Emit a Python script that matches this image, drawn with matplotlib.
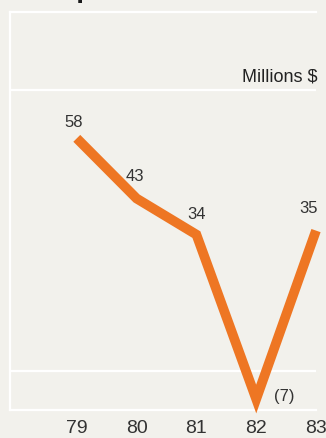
import matplotlib.pyplot as plt

years = [79, 80, 81, 82, 83]
profit = [58, 43, 34, -7, 35]
value_labels = ['58', '43', '34', '(7)', '35']
# label offsets from each point, in pixels
label_offsets = [(-3, 11), (-2, 18), (0, 16), (28, -2), (-7, 18)]

bg = '#f2f1ec'
orange = '#ee7623'
font = ['Liberation Sans', 'DejaVu Sans']

fig = plt.figure(figsize=(3.26, 4.38), dpi=100, facecolor=bg)
W, H = 326, 438
# axes box in pixel terms: left 10, right 316, top 12, bottom 410
ax = fig.add_axes([10 / W, (H - 410) / H, 306 / W, 398 / H])
ax.set_facecolor(bg)

ax.set_xlim(77.883, 82.983)
ax.set_ylim(-9.73, 89.5)

for s in ['left', 'top', 'bottom']:
    ax.spines[s].set_color('white')
    ax.spines[s].set_linewidth(1.6)
ax.spines['right'].set_visible(False)

for y in [0, 70]:
    ax.axhline(y, color='white', lw=1.6, zorder=1)

ax.plot(years, profit, color=orange, lw=7, solid_capstyle='butt',
        solid_joinstyle='miter', clip_on=False, zorder=3)

for x, y, lab, off in zip(years, profit, value_labels, label_offsets):
    ax.annotate(lab, (x, y), xytext=off, textcoords='offset pixels',
                ha='center', va='baseline', fontsize=12, family=font,
                color='#333333', annotation_clip=False)

ax.set_yticks([])
ax.set_xticks(years)
ax.set_xticklabels([str(y) for y in years], family=font, fontsize=14,
                   color='#333333')
ax.tick_params(axis='x', length=0, pad=7)

fig.text(317 / W, 1 - 82 / H, 'Millions $', ha='right', va='baseline',
         fontsize=13, family='Liberation Sans', color='#222222')
fig.text(10 / W, 1 + 3 / H, 'Group results', ha='left', va='baseline',
         fontsize=20, fontweight='bold', family='Liberation Sans',
         color='#1a1a1a')

fig.savefig('out.png', dpi=100, facecolor=bg)
